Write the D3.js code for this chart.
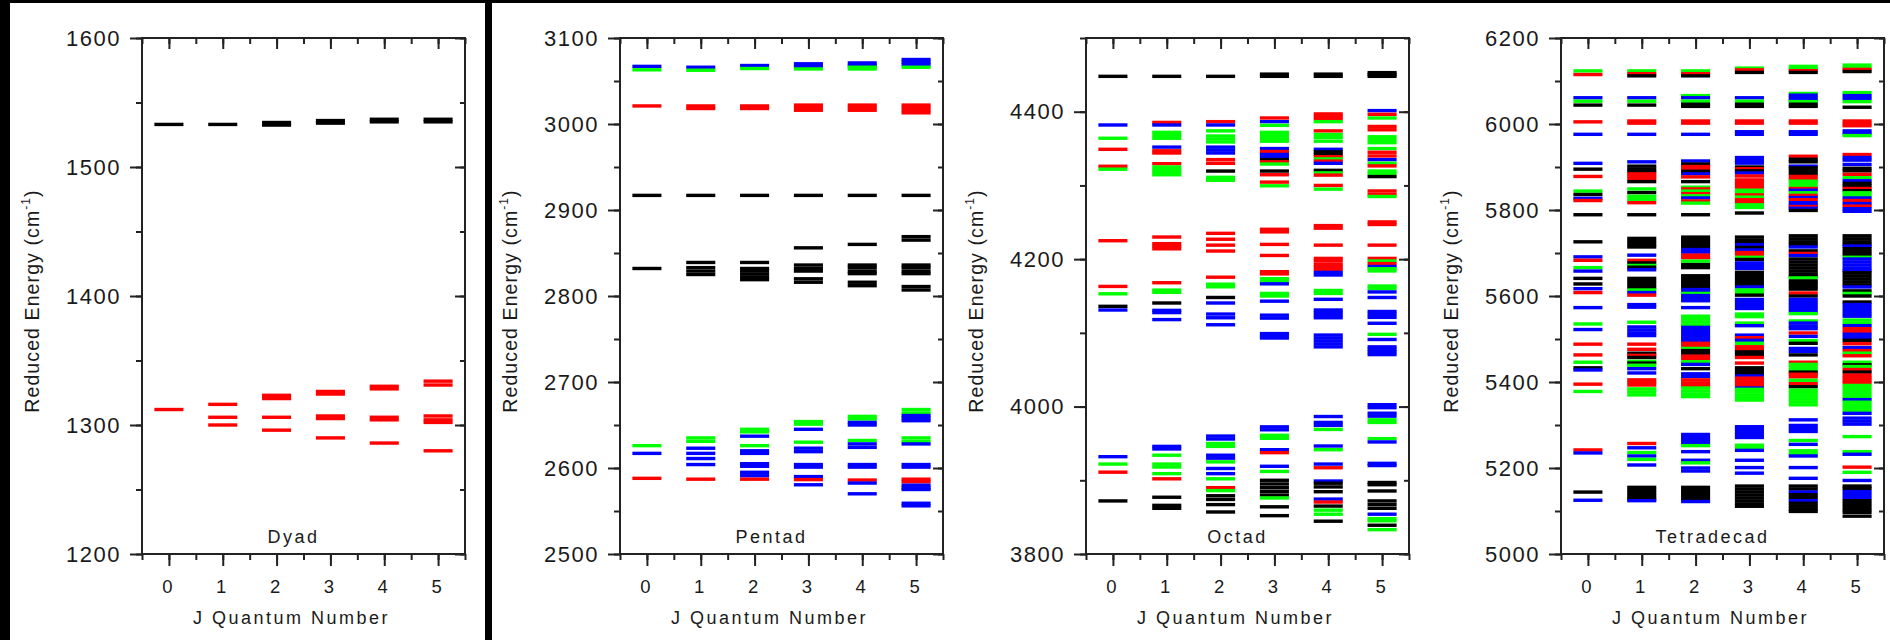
<!DOCTYPE html>
<html>
<head>
<meta charset="utf-8">
<script src="https://cdn.jsdelivr.net/npm/d3@7"></script>
<style>
  html, body { margin: 0; padding: 0; background: #ffffff; }
  svg { display: block; }
  text { font-family: "Liberation Sans", Arial, sans-serif; fill: #1a1a1a; }
</style>
</head>
<body>
<script>
// ---- data -------------------------------------------------------------
// Rotational quantum number J on the x axis
const jValues = [0, 1, 2, 3, 4, 5];
const panelNames = ["Dyad", "Pentad", "Octad", "Tetradecad"];
const energyRanges = [[1200, 1600], [2500, 3100], [3800, 4500], [5000, 6200]];
const dyadTicks = [1200, 1300, 1400, 1500, 1600];
const pentadTicks = [2500, 2600, 2700, 2800, 2900, 3000, 3100];
const octadTicks = [3800, 4000, 4200, 4400];
const tetradecadTicks = [5000, 5200, 5400, 5600, 5800, 6000, 6200];
const minorSteps = [50, 50, 100, 100];
// symmetry / sublevel colour key
const levelColors = { k: "#000000", r: "#ff0000", g: "#00ff00", b: "#0000ff" };

// Reduced energies (cm-1) per J: [energy, colour key]
const dyadLevels = [
  [[1533,'k'],[1312,'r']],
  [[1533,'k'],[1316,'r'],[1306,'r'],[1300,'r']],
  [[1534.5,'k'],[1532.5,'k'],[1323,'r'],[1320.5,'r'],[1306,'r'],[1296,'r']],
  [[1536,'k'],[1534,'k'],[1326,'r'],[1324,'r'],[1307,'r'],[1305,'r'],[1290,'r']],
  [[1537,'k'],[1535,'k'],[1330,'r'],[1328,'r'],[1306,'r'],[1304,'r'],[1286,'r']],
  [[1537,'k'],[1535,'k'],[1334,'r'],[1331,'r'],[1307,'r'],[1304,'r'],[1302,'r'],[1280,'r']]
];

const pentadLevels = [
  [[3067,'b'],[3063,'g'],[3021,'r'],[2917,'k'],[2832,'k'],[2626,'g'],[2617,'b'],[2588,'r']],
  [[3066,'b'],[3062.5,'g'],[3021,'r'],[3018,'r'],[2917,'k'],[2839,'k'],[2833,'k'],[2829,'k'],[2825,'k'],
   [2635,'g'],[2631,'g'],[2623,'b'],[2617,'b'],[2611,'b'],[2604,'b'],[2587,'r']],
  [[3068,'b'],[3064.5,'g'],[3021,'r'],[3018,'r'],[2917,'k'],[2839,'k'],[2832,'k'],[2829,'k'],[2825.5,'k'],[2822,'k'],[2819,'k'],
   [2645,'g'],[2642,'g'],[2637,'b'],[2626,'g'],[2620,'b'],[2617,'b'],[2605,'b'],[2602,'b'],[2595,'b'],[2591,'b'],[2587,'r']],
  [[3070,'b'],[3067,'b'],[3064,'g'],[3022,'r'],[3019,'r'],[3016,'r'],[2917,'k'],[2856,'k'],[2836,'k'],[2832,'k'],[2829,'k'],[2820,'k'],[2816,'k'],
   [2654,'g'],[2651,'g'],[2645,'b'],[2630,'g'],[2623,'b'],[2619,'b'],[2604,'b'],[2601,'b'],[2590,'b'],[2586.5,'r'],[2580.5,'b']],
  [[3071,'b'],[3068,'b'],[3066,'g'],[3064,'g'],[3022,'r'],[3019,'r'],[3016,'r'],[2917,'k'],[2860,'k'],[2836,'k'],[2833,'k'],[2829,'k'],[2826,'k'],[2816,'k'],[2812,'k'],
   [2660,'g'],[2657,'g'],[2653,'b'],[2650,'b'],[2632,'g'],[2628,'b'],[2624,'b'],[2604,'b'],[2601,'b'],[2586,'r'],[2582.5,'b'],[2570,'b']],
  [[3075,'b'],[3072,'b'],[3069,'b'],[3066,'g'],[3022,'r'],[3019,'r'],[3016,'r'],[3013,'r'],[2917,'k'],[2869,'k'],[2865,'k'],[2836,'k'],[2833,'k'],[2829,'k'],[2826,'k'],[2811,'k'],[2807,'k'],
   [2668,'g'],[2664,'g'],[2661,'b'],[2658,'b'],[2655,'b'],[2635,'g'],[2631,'g'],[2628,'b'],[2604,'b'],[2601,'b'],[2587,'r'],[2584,'r'],[2580,'b'],[2577,'b'],[2575,'b'],[2559,'b'],[2556,'b']]
];

const octadLevels = [
  [[4448,'k'],[4382,'b'],[4364,'g'],[4349,'r'],[4326,'r'],[4322,'g'],[4225,'r'],[4163,'r'],[4153,'g'],[4136,'k'],[4131,'b'],
   [3932,'b'],[3922,'g'],[3911,'r'],[3872,'k']],
  [[4448,'k'],[4385.5,'r'],[4382,'b'],[4372,'g'],[4368,'g'],[4364,'g'],[4352,'b'],[4347,'r'],[4344,'r'],[4329.5,'r'],[4325,'g'],[4321.5,'g'],[4318,'g'],[4314.5,'g'],
   [4230,'r'],[4221,'r'],[4217.5,'r'],[4214,'r'],[4168,'r'],[4158,'g'],[4155,'g'],[4140.5,'k'],[4130.5,'b'],[4127.5,'b'],[4118,'b'],
   [3946,'b'],[3942.5,'b'],[3934,'g'],[3922,'g'],[3918,'g'],[3909,'g'],[3902,'r'],[3877,'k'],[3866,'k'],[3862,'k']],
  [[4448,'k'],[4386.5,'r'],[4382,'b'],[4374,'g'],[4367,'g'],[4363,'g'],[4359,'g'],[4352,'b'],[4348,'b'],[4344,'b'],[4335,'r'],[4330,'r'],[4319.5,'k'],[4311,'g'],[4307,'g'],
   [4235,'r'],[4227,'r'],[4219,'r'],[4211,'r'],[4175.5,'r'],[4166,'g'],[4162.5,'g'],[4148,'k'],[4140.5,'b'],[4125.5,'b'],[4120.5,'b'],[4111,'b'],
   [3960,'b'],[3956,'b'],[3950,'g'],[3946,'g'],[3934,'b'],[3930,'b'],[3925,'g'],[3916,'b'],[3909,'b'],[3902,'g'],[3890,'r'],[3886,'g'],[3879,'k'],[3874,'k'],[3867,'k'],[3857,'k']],
  [[4451,'k'],[4448,'k'],[4391.5,'r'],[4386.5,'b'],[4381.5,'g'],[4372,'g'],[4368,'g'],[4364,'g'],[4360,'g'],[4350,'b'],[4346,'r'],[4342,'b'],[4339,'b'],[4335,'k'],[4332,'r'],[4329,'g'],
   [4319.5,'k'],[4314.5,'r'],[4304.5,'r'],[4299.5,'g'],
   [4240.5,'r'],[4237,'r'],[4220,'r'],[4205,'r'],[4183,'r'],[4180,'r'],[4173.5,'g'],[4170,'g'],[4166.5,'b'],[4153.5,'g'],[4150,'g'],[4143,'b'],[4124,'b'],[4120,'b'],[4099,'b'],[4096,'b'],[4093,'b'],
   [3972.5,'b'],[3968.5,'b'],[3961,'g'],[3957,'g'],[3941.5,'b'],[3937.5,'r'],[3919,'b'],[3912,'g'],[3900,'k'],[3895,'k'],[3890,'k'],[3885,'k'],[3880,'k'],[3876,'g'],[3864,'k'],[3852,'k']],
  [[4451,'k'],[4448,'k'],[4397,'r'],[4393.5,'r'],[4390,'r'],[4386.5,'g'],[4374,'r'],[4369,'g'],[4365,'g'],[4360,'g'],[4349,'b'],[4345.5,'k'],[4342,'k'],[4339,'r'],[4336,'g'],[4333,'r'],[4330,'b'],
   [4320.5,'k'],[4317,'g'],[4314,'r'],[4300,'r'],[4295,'g'],
   [4245.5,'r'],[4242,'r'],[4219,'r'],[4201,'r'],[4197.5,'r'],[4193,'r'],[4189.5,'r'],[4186,'r'],[4182,'b'],[4178.5,'b'],[4157.5,'g'],[4153.5,'g'],[4145.5,'b'],
   [4131,'b'],[4127.5,'b'],[4124,'b'],[4120.5,'b'],[4097,'b'],[4093,'b'],[4089,'b'],[4085,'b'],[4081,'b'],
   [3986.5,'b'],[3978.5,'b'],[3974.5,'b'],[3969,'g'],[3946.5,'b'],[3941.5,'g'],[3922,'b'],[3917,'r'],[3899,'b'],[3896,'k'],[3891,'k'],[3884.5,'k'],[3874.5,'b'],[3870.5,'r'],[3865,'k'],[3859.5,'g'],[3854,'g'],[3844.5,'k']],
  [[4453,'k'],[4450.5,'k'],[4448,'k'],[4401.5,'b'],[4396.5,'r'],[4391.5,'g'],[4380,'r'],[4375.5,'r'],[4366,'g'],[4362,'g'],[4358,'g'],[4350,'g'],[4345,'r'],[4340,'r'],[4335,'b'],[4330,'g'],[4326.5,'r'],
   [4319.5,'g'],[4316,'g'],[4312,'k'],[4292.5,'r'],[4288,'r'],[4285,'g'],
   [4250.5,'r'],[4247,'r'],[4219,'r'],[4201,'r'],[4197.5,'g'],[4194,'r'],[4190,'b'],[4187,'g'],[4184,'g'],[4163.5,'g'],[4160,'g'],[4155.5,'b'],[4148,'b'],
   [4129,'b'],[4125,'b'],[4121,'b'],[4113,'b'],[4098,'g'],[4091,'b'],[4081,'b'],[4077.5,'b'],[4074,'b'],[4070.5,'b'],
   [4002.5,'b'],[3998.5,'b'],[3991,'b'],[3987,'b'],[3982,'g'],[3978.5,'g'],[3956.5,'g'],[3952,'b'],[3923,'b'],[3920,'b'],[3897,'k'],[3894,'k'],[3885.5,'k'],
   [3872,'k'],[3867,'k'],[3862,'k'],[3854,'b'],[3848,'g'],[3845,'g'],[3839,'k'],[3833,'g']]
];

const tetradecadLevels = [
  [[6123.5,'g'],[6115,'r'],[6061,'b'],[6053,'g'],[6044,'k'],[6005,'r'],[5976,'b'],
   [5908.5,'b'],[5895,'k'],[5878,'r'],[5844,'g'],[5836,'k'],[5827,'b'],[5822,'r'],[5789,'k'],[5726,'k'],
   [5691,'b'],[5683,'r'],[5666,'g'],[5658,'b'],[5641,'k'],[5628,'k'],[5617,'b'],[5608,'r'],
   [5573,'b'],[5535,'g'],[5522,'b'],[5488,'r'],[5463,'r'],[5446,'g'],[5433,'k'],[5428,'b'],[5395,'r'],[5378,'g'],
   [5242,'r'],[5235,'b'],[5144,'k'],[5125,'b']],
  [[6123.5,'g'],[6117,'r'],[6112,'k'],[6061,'b'],[6053,'g'],[6044,'k'],[6007,'r'],[6002,'r'],[5976,'b'],
   [5912,'b'],[5902,'k'],[5895,'k'],[5889,'k'],[5884,'r'],[5878,'r'],[5873,'r'],[5866,'k'],
   [5849,'g'],[5840.5,'k'],[5832,'g'],[5825,'g'],[5817,'r'],[5789,'k'],
   [5734,'k'],[5727,'k'],[5720,'k'],[5714,'k'],[5695,'b'],[5683,'r'],[5677,'k'],[5671,'g'],[5667,'k'],[5661,'b'],
   [5641,'k'],[5634,'k'],[5627,'k'],[5620,'k'],[5614,'g'],[5608,'b'],[5602,'r'],[5580,'b'],[5574,'b'],
   [5539,'g'],[5528,'b'],[5521,'b'],[5514,'b'],[5508,'b'],
   [5488,'r'],[5476,'r'],[5467,'k'],[5462,'r'],[5457,'k'],[5448,'g'],[5444,'k'],[5439,'g'],[5431,'b'],[5421,'b'],
   [5405,'r'],[5399,'r'],[5393,'r'],[5384,'g'],[5377,'g'],[5370,'g'],
   [5257,'r'],[5247,'b'],[5236,'g'],[5228,'b'],[5220,'g'],[5207,'b'],
   [5155,'k'],[5148,'k'],[5141,'k'],[5134,'k'],[5128,'k'],[5124,'b']],
  [[6123.5,'g'],[6117,'r'],[6112,'k'],[6066,'g'],[6061,'b'],[6053,'g'],[6046,'k'],[6041,'k'],[6007,'r'],[6002,'r'],[5976,'b'],
   [5914,'b'],[5907,'k'],[5901,'r'],[5896,'r'],[5890,'k'],[5884,'b'],[5877,'r'],[5866,'k'],
   [5853,'g'],[5849,'r'],[5844,'g'],[5838,'r'],[5833,'g'],[5828,'b'],[5821,'r'],[5816,'g'],[5789,'k'],
   [5737,'k'],[5731,'k'],[5725,'k'],[5719,'k'],[5714,'k'],[5708,'b'],[5702,'b'],[5695,'r'],[5689,'r'],[5681,'g'],[5673,'k'],[5666,'k'],
   [5647,'k'],[5641,'k'],[5634,'k'],[5627,'k'],[5620,'k'],[5615,'b'],[5610,'b'],[5606,'g'],[5601,'b'],[5595,'b'],[5589,'b'],[5573,'b'],
   [5553,'g'],[5547,'g'],[5540,'g'],[5533,'g'],[5527,'b'],[5520,'b'],[5513,'b'],[5507,'b'],[5501,'b'],[5496,'b'],
   [5490,'r'],[5484,'r'],[5478,'g'],[5473,'k'],[5467,'k'],[5460,'r'],[5454,'r'],[5447,'g'],[5441,'b'],[5431,'k'],
   [5419,'b'],[5413,'b'],[5405,'r'],[5398,'r'],[5392,'r'],[5386,'g'],[5379,'g'],[5372,'g'],[5366,'g'],
   [5278,'b'],[5271,'b'],[5264,'b'],[5257,'b'],[5252,'g'],[5238,'b'],[5218,'b'],[5212,'g'],[5200,'b'],[5193,'b'],
   [5155,'k'],[5148,'k'],[5141,'k'],[5134,'k'],[5128,'k'],[5122,'b']],
  [[6130,'g'],[6126,'r'],[6120,'k'],[6061,'b'],[6053,'g'],[6046,'k'],[6041,'k'],[6007,'r'],[6002,'r'],[5982,'b'],[5976,'b'],
   [5922,'b'],[5915,'b'],[5909,'b'],[5900,'k'],[5896,'r'],[5891,'k'],[5886,'b'],[5879,'r'],
   [5870,'r'],[5864,'r'],[5858,'r'],[5852,'r'],[5846,'g'],[5840,'g'],[5835,'r'],[5830,'g'],[5824,'r'],[5818,'r'],[5812,'g'],[5806,'g'],[5793,'k'],
   [5737,'k'],[5730,'k'],[5724,'k'],[5719,'b'],[5713,'k'],[5707,'b'],[5701,'r'],[5696,'r'],[5690,'g'],[5685,'k'],
   [5677,'b'],[5671,'b'],[5664,'b'],[5655,'k'],[5648,'k'],[5641,'k'],[5634,'k'],[5627,'k'],[5621,'b'],[5614,'g'],[5608,'g'],[5602,'k'],
   [5592,'b'],[5585,'b'],[5578,'b'],[5571,'b'],[5558,'g'],[5552,'g'],[5537,'g'],[5531,'b'],
   [5509,'b'],[5503,'r'],[5497,'b'],[5490,'g'],[5482,'r'],[5476,'r'],[5470,'k'],[5464,'k'],[5457,'r'],
   [5444,'r'],[5433,'k'],[5427,'k'],[5420,'k'],[5414,'b'],[5409,'r'],[5403,'r'],[5397,'r'],[5391,'r'],[5386,'b'],
   [5383,'g'],[5377,'g'],[5370,'g'],[5364,'g'],[5358,'g'],
   [5296,'b'],[5290,'b'],[5283,'b'],[5277,'b'],[5271,'b'],[5253,'g'],[5247,'g'],[5241,'b'],[5218,'b'],[5201,'b'],[5188,'b'],
   [5158,'k'],[5151,'k'],[5144,'k'],[5137,'k'],[5130,'k'],[5123,'k'],[5116,'k'],[5111,'k']],
  [[6134,'g'],[6128,'g'],[6124,'r'],[6120,'k'],[6071,'g'],[6067,'b'],[6061,'b'],[6055,'b'],[6052,'g'],[6046,'k'],[6041,'k'],
   [6007,'r'],[6002,'r'],[5982,'b'],[5976,'b'],
   [5925,'r'],[5918,'k'],[5912,'k'],[5902,'b'],[5898,'k'],[5892,'k'],[5885,'k'],[5878,'r'],[5871,'r'],[5867,'g'],[5861,'g'],[5854,'g'],
   [5850,'r'],[5846,'b'],[5840,'g'],[5834,'r'],[5829,'b'],[5824,'r'],[5817,'b'],[5811,'b'],[5808,'r'],[5804,'b'],[5799,'k'],
   [5740,'k'],[5733,'k'],[5726,'k'],[5720,'k'],[5714,'b'],[5705,'k'],[5699,'r'],[5694,'b'],
   [5686,'k'],[5679,'k'],[5672,'k'],[5665,'k'],[5658,'k'],[5651,'k'],[5646,'k'],[5642,'g'],
   [5635,'k'],[5629,'k'],[5622,'k'],[5616,'k'],[5607,'r'],[5600,'k'],
   [5592,'b'],[5585,'b'],[5578,'b'],[5571,'b'],[5564,'b'],[5559,'g'],[5542,'g'],[5537,'b'],[5530,'b'],[5524,'b'],
   [5514,'r'],[5506,'b'],[5496,'g'],[5490,'k'],[5478,'b'],[5471,'b'],[5463,'k'],
   [5446,'r'],[5441,'g'],[5434,'g'],[5427,'g'],[5423,'k'],[5418,'r'],[5412,'r'],[5404,'g'],[5396,'r'],[5389,'k'],
   [5381,'g'],[5375,'g'],[5368,'g'],[5361,'g'],[5354,'g'],[5347,'g'],
   [5312,'b'],[5299,'b'],[5292,'b'],[5285,'b'],[5264,'g'],[5255,'b'],[5240,'g'],[5233,'g'],[5228,'b'],[5201,'b'],[5176,'b'],
   [5158,'k'],[5151,'k'],[5144,'b'],[5138,'k'],[5131,'k'],[5124,'b'],[5118,'k'],[5111,'k'],[5104,'k'],[5099,'k']],
  [[6137,'g'],[6131,'g'],[6127,'r'],[6122,'k'],[6073,'g'],[6066,'b'],[6059,'b'],[6052,'g'],[6039,'k'],
   [6007,'r'],[6001,'r'],[5996,'r'],[5984,'b'],[5978,'b'],[5973,'g'],
   [5929,'r'],[5922,'b'],[5916,'b'],[5906,'b'],[5897,'k'],[5891,'k'],[5883,'r'],[5875,'g'],[5868,'b'],[5862,'k'],[5856,'k'],
   [5850,'r'],[5845,'k'],[5840,'g'],[5834,'g'],[5828,'b'],[5822,'r'],[5815,'b'],[5809,'r'],[5803,'b'],[5797,'b'],
   [5740,'k'],[5733,'k'],[5726,'k'],[5720,'k'],[5716,'b'],[5710,'k'],[5703,'k'],[5697,'k'],[5690,'g'],
   [5686,'b'],[5679,'b'],[5672,'b'],[5665,'b'],[5659,'b'],
   [5654,'k'],[5647,'k'],[5640,'k'],[5633,'k'],[5626,'k'],[5621,'b'],[5612,'k'],[5606,'g'],[5600,'k'],
   [5586,'k'],[5580,'b'],[5573,'b'],[5566,'b'],[5559,'b'],[5553,'b'],
   [5544,'g'],[5537,'g'],[5531,'b'],[5524,'r'],[5517,'r'],[5511,'b'],[5504,'b'],[5497,'k'],[5489,'r'],[5480,'b'],[5473,'r'],[5467,'g'],[5461,'r'],
   [5446,'g'],[5440,'k'],[5436,'g'],[5429,'r'],[5423,'k'],[5416,'r'],[5410,'r'],[5404,'r'],[5398,'r'],
   [5392,'g'],[5385,'g'],[5378,'g'],[5371,'g'],[5365,'g'],[5359,'b'],[5353,'g'],[5346,'g'],[5340,'g'],[5333,'g'],[5327,'b'],
   [5316,'b'],[5309,'b'],[5302,'b'],[5273,'g'],[5238,'g'],[5232,'b'],[5202,'r'],[5190,'g'],[5171,'b'],
   [5158,'k'],[5152,'k'],[5145,'b'],[5138,'b'],[5131,'b'],[5124,'k'],[5117,'k'],[5110,'k'],[5103,'k'],[5097,'k'],[5088,'k']]
];

const panelLevels = [dyadLevels, pentadLevels, octadLevels, tetradecadLevels];
const panelTicks = [dyadTicks, pentadTicks, octadTicks, tetradecadTicks];

// ---- layout -----------------------------------------------------------
const W = 1890, H = 640;
const plotTop = 38, plotBottom = 554, plotWidth = 323;
const plotLefts = [142, 620, 1086, 1561];
const halfWidth = 0.27;   // half length of a level segment, in J units
const lineThickness = 3.4;
const axisColor = "#222222";
const labelColor = "#2a2a2a";

const svg = d3.select("body").append("svg")
  .attr("width", W).attr("height", H)
  .attr("viewBox", `0 0 ${W} ${H}`);

svg.append("rect").attr("width", W).attr("height", H).attr("fill", "#ffffff");

// dark border strips and the divider after the first panel
svg.append("rect").attr("x", 0).attr("y", 0).attr("width", W).attr("height", 3).attr("fill", "#000");
svg.append("rect").attr("x", 0).attr("y", 0).attr("width", 10).attr("height", H).attr("fill", "#000");
svg.append("rect").attr("x", 485).attr("y", 0).attr("width", 7).attr("height", H).attr("fill", "#000");

panelNames.forEach((name, p) => {
  const left = plotLefts[p], right = left + plotWidth;
  const [emin, emax] = energyRanges[p];

  const x = d3.scaleLinear().domain([-0.5, 5.5]).range([left, right]);
  const y = d3.scaleLinear().domain([emin, emax]).range([plotBottom, plotTop]);

  const g = svg.append("g").attr("class", "panel-" + name.toLowerCase());

  // energy levels
  const flat = [];
  panelLevels[p].forEach((levels, j) => {
    levels.forEach(([e, s]) => flat.push({ j: jValues[j], e, s }));
  });
  g.append("g").selectAll("rect")
    .data(flat)
    .join("rect")
    .attr("x", d => x(d.j - halfWidth))
    .attr("width", d => x(d.j + halfWidth) - x(d.j - halfWidth))
    .attr("y", d => y(d.e) - lineThickness / 2)
    .attr("height", lineThickness)
    .attr("fill", d => levelColors[d.s]);

  const minorE = d3.range(emin, emax + 0.001, minorSteps[p]);
  const halfJ = d3.range(-0.5, 5.51, 0.5);

  const styleAxis = sel => {
    sel.select(".domain").remove();
    sel.selectAll(".tick line").attr("stroke", axisColor).attr("stroke-width", 2);
  };

  // left axis: outward ticks with labels
  g.append("g").attr("transform", `translate(${left},0)`)
    .call(d3.axisLeft(y).tickValues(minorE).tickSize(6).tickFormat(""))
    .call(styleAxis);
  g.append("g").attr("transform", `translate(${left},0)`)
    .call(d3.axisLeft(y).tickValues(panelTicks[p]).tickSize(12).tickPadding(9).tickFormat(d3.format("d")))
    .call(styleAxis)
    .call(sel => sel.selectAll("text")
      .attr("font-size", 22).attr("letter-spacing", 1.5)
      .attr("fill", labelColor).attr("font-family", "Liberation Sans, Arial, sans-serif"));

  // right axis: inward ticks
  g.append("g").attr("transform", `translate(${right},0)`)
    .call(d3.axisRight(y).tickValues(minorE).tickSize(-5).tickFormat(""))
    .call(styleAxis);
  g.append("g").attr("transform", `translate(${right},0)`)
    .call(d3.axisRight(y).tickValues(panelTicks[p]).tickSize(-10).tickFormat(""))
    .call(styleAxis);

  // top axis: inward ticks
  g.append("g").attr("transform", `translate(0,${plotTop})`)
    .call(d3.axisTop(x).tickValues(halfJ).tickSize(-6).tickFormat(""))
    .call(styleAxis);
  g.append("g").attr("transform", `translate(0,${plotTop})`)
    .call(d3.axisTop(x).tickValues(jValues).tickSize(-11).tickFormat(""))
    .call(styleAxis);

  // bottom axis: outward ticks with J labels
  g.append("g").attr("transform", `translate(0,${plotBottom})`)
    .call(d3.axisBottom(x).tickValues(halfJ).tickSize(6).tickFormat(""))
    .call(styleAxis);
  g.append("g").attr("transform", `translate(0,${plotBottom})`)
    .call(d3.axisBottom(x).tickValues(jValues).tickSize(12).tickPadding(14).tickFormat(d3.format("d")))
    .call(styleAxis)
    .call(sel => sel.selectAll("text")
      .attr("font-size", 18.5).attr("dx", -2)
      .attr("fill", labelColor).attr("font-family", "Liberation Sans, Arial, sans-serif"));

  // frame
  g.append("rect")
    .attr("x", left).attr("y", plotTop)
    .attr("width", plotWidth).attr("height", plotBottom - plotTop)
    .attr("fill", "none").attr("stroke", axisColor).attr("stroke-width", 2);

  const cx = (left + right) / 2;

  // polyad name inside the plot
  g.append("text")
    .attr("x", cx - 10).attr("y", 543)
    .attr("text-anchor", "middle")
    .attr("font-size", 18).attr("letter-spacing", 2.5)
    .attr("fill", labelColor)
    .text(name);

  // x axis title
  g.append("text")
    .attr("x", cx - 12).attr("y", 624)
    .attr("text-anchor", "middle")
    .attr("font-size", 18).attr("letter-spacing", 2.5)
    .attr("fill", labelColor)
    .text("J Quantum Number");

  // y axis title with superscript
  const yt = g.append("text")
    .attr("transform", `translate(${left - 103},301) rotate(-90)`)
    .attr("text-anchor", "middle")
    .attr("font-size", 19.5).attr("letter-spacing", 1.1)
    .attr("fill", labelColor);
  yt.append("tspan").text("Reduced Energy (cm");
  yt.append("tspan").attr("font-size", 12).attr("dy", -9).text("-1");
  yt.append("tspan").attr("dy", 9).text(")");
});
</script>
</body>
</html>
